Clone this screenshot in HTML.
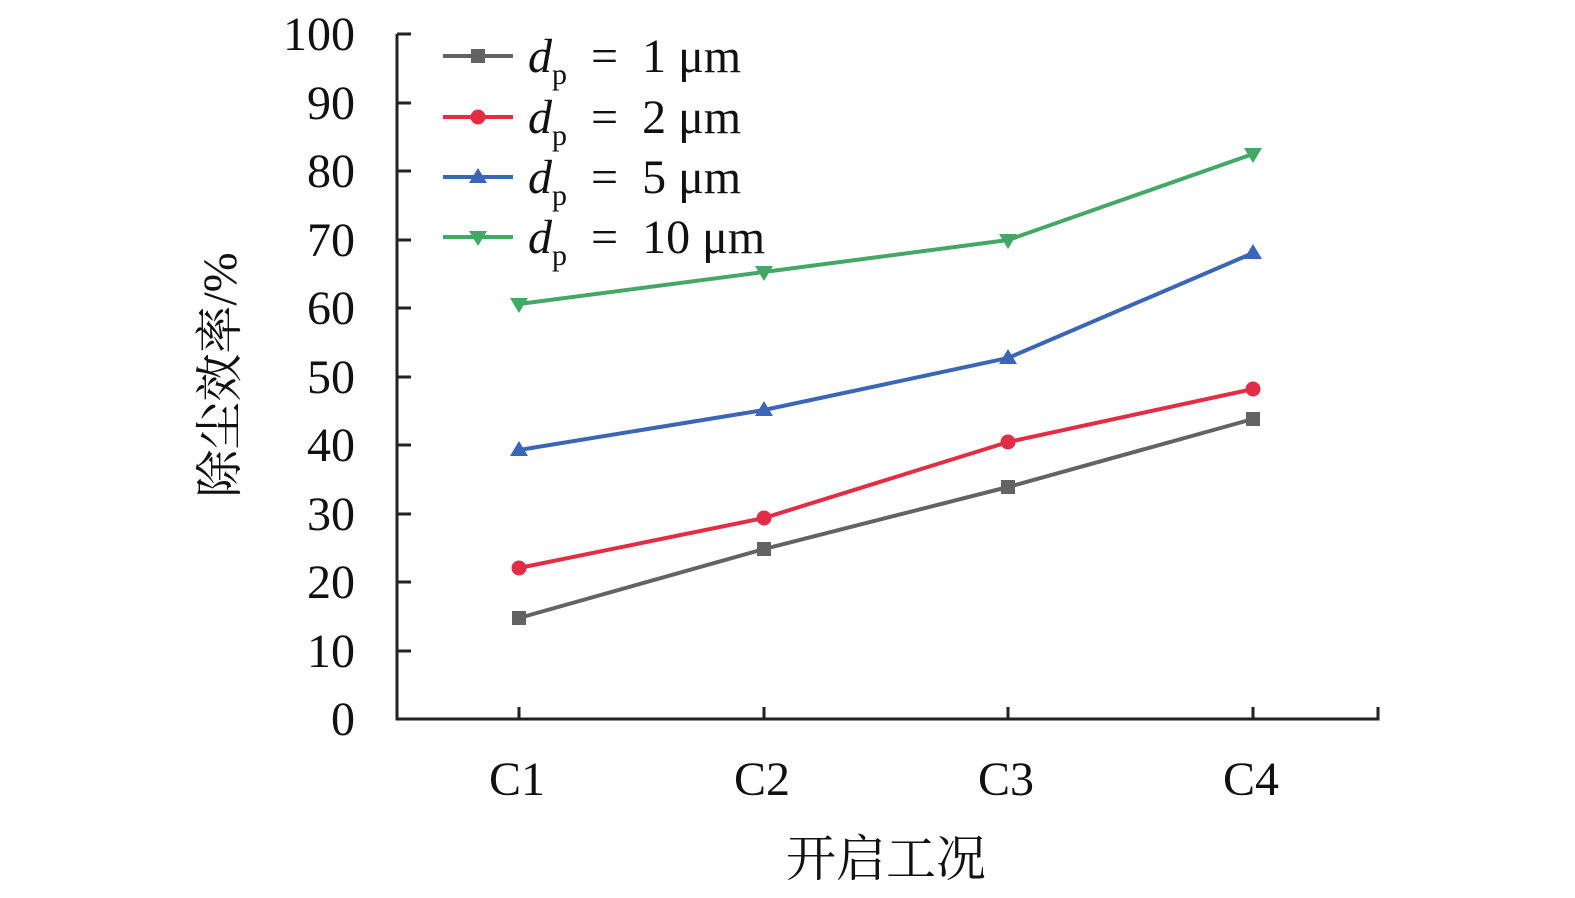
<!DOCTYPE html><html><head><meta charset="utf-8"><style>body{margin:0;background:#fff}</style></head><body>
<svg width="1575" height="893" xmlns="http://www.w3.org/2000/svg" font-family="'Liberation Serif','Noto Serif CJK SC',serif">
<g stroke="#222" stroke-width="3" fill="none">
<path d="M397,34 V719 H1378 V707"/>
<path d="M397,34h14M397,103h14M397,171h14M397,240h14M397,308h14M397,377h14M397,445h14M397,514h14M397,582h14M397,651h14"/>
<path d="M519,719v-12M764,719v-12M1008,719v-12M1253,719v-12"/>
</g>
<g font-size="48" text-anchor="end" fill="#111">
<text x="355" y="50">100</text><text x="355" y="119">90</text><text x="355" y="187">80</text><text x="355" y="256">70</text><text x="355" y="324">60</text><text x="355" y="393">50</text><text x="355" y="461">40</text><text x="355" y="530">30</text><text x="355" y="598">20</text><text x="355" y="667">10</text><text x="355" y="735">0</text>
</g>
<g font-size="48" text-anchor="middle" fill="#111">
<text x="517" y="795">C1</text><text x="762" y="795">C2</text><text x="1006" y="795">C3</text><text x="1251" y="795">C4</text>
<text x="886" y="876" font-size="50">开启工况</text>
<text transform="translate(236,375) rotate(-90)" font-size="48">除尘效率/%</text>
</g>
<g stroke-width="4" fill="none">
<polyline stroke="#636363" points="519,618 764,549 1008,487 1253,419"/>
<polyline stroke="#e32d44" points="519,568 764,518 1008,442 1253,389"/>
<polyline stroke="#3b66b8" points="519,450 764,410 1008,358 1253,253"/>
<polyline stroke="#43a866" points="519,304 764,272 1008,240 1253,154"/>
</g>
<g fill="#636363"><rect x="512" y="611" width="14" height="14"/><rect x="757" y="542" width="14" height="14"/><rect x="1001" y="480" width="14" height="14"/><rect x="1246" y="412" width="14" height="14"/></g>
<g fill="#e32d44"><circle cx="519" cy="568" r="7.5"/><circle cx="764" cy="518" r="7.5"/><circle cx="1008" cy="442" r="7.5"/><circle cx="1253" cy="389" r="7.5"/></g>
<g fill="#3b66b8"><path d="M519,441l9,15h-18z"/><path d="M764,401l9,15h-18z"/><path d="M1008,349l9,15h-18z"/><path d="M1253,244l9,15h-18z"/></g>
<g fill="#43a866"><path d="M519,313l9,-15h-18z"/><path d="M764,281l9,-15h-18z"/><path d="M1008,249l9,-15h-18z"/><path d="M1253,163l9,-15h-18z"/></g>
<g stroke-width="4">
<line x1="443" y1="56" x2="513" y2="56" stroke="#636363"/><rect x="471" y="49" width="14" height="14" fill="#636363"/>
<line x1="443" y1="117" x2="513" y2="117" stroke="#e32d44"/><circle cx="478" cy="117" r="7.5" fill="#e32d44"/>
<line x1="443" y1="177" x2="513" y2="177" stroke="#3b66b8"/><path d="M478,168l9,15h-18z" fill="#3b66b8"/>
<line x1="443" y1="237" x2="513" y2="237" stroke="#43a866"/><path d="M478,246l9,-15h-18z" fill="#43a866"/>
</g>
<g font-size="48" fill="#111">
<text x="528" y="72"><tspan font-style="italic">d</tspan><tspan font-size="30" dy="12">p</tspan><tspan dy="-12" xml:space="preserve">  =  1 μm</tspan></text>
<text x="528" y="133"><tspan font-style="italic">d</tspan><tspan font-size="30" dy="12">p</tspan><tspan dy="-12" xml:space="preserve">  =  2 μm</tspan></text>
<text x="528" y="193"><tspan font-style="italic">d</tspan><tspan font-size="30" dy="12">p</tspan><tspan dy="-12" xml:space="preserve">  =  5 μm</tspan></text>
<text x="528" y="253"><tspan font-style="italic">d</tspan><tspan font-size="30" dy="12">p</tspan><tspan dy="-12" xml:space="preserve">  =  10 μm</tspan></text>
</g>
</svg>
</body></html>
